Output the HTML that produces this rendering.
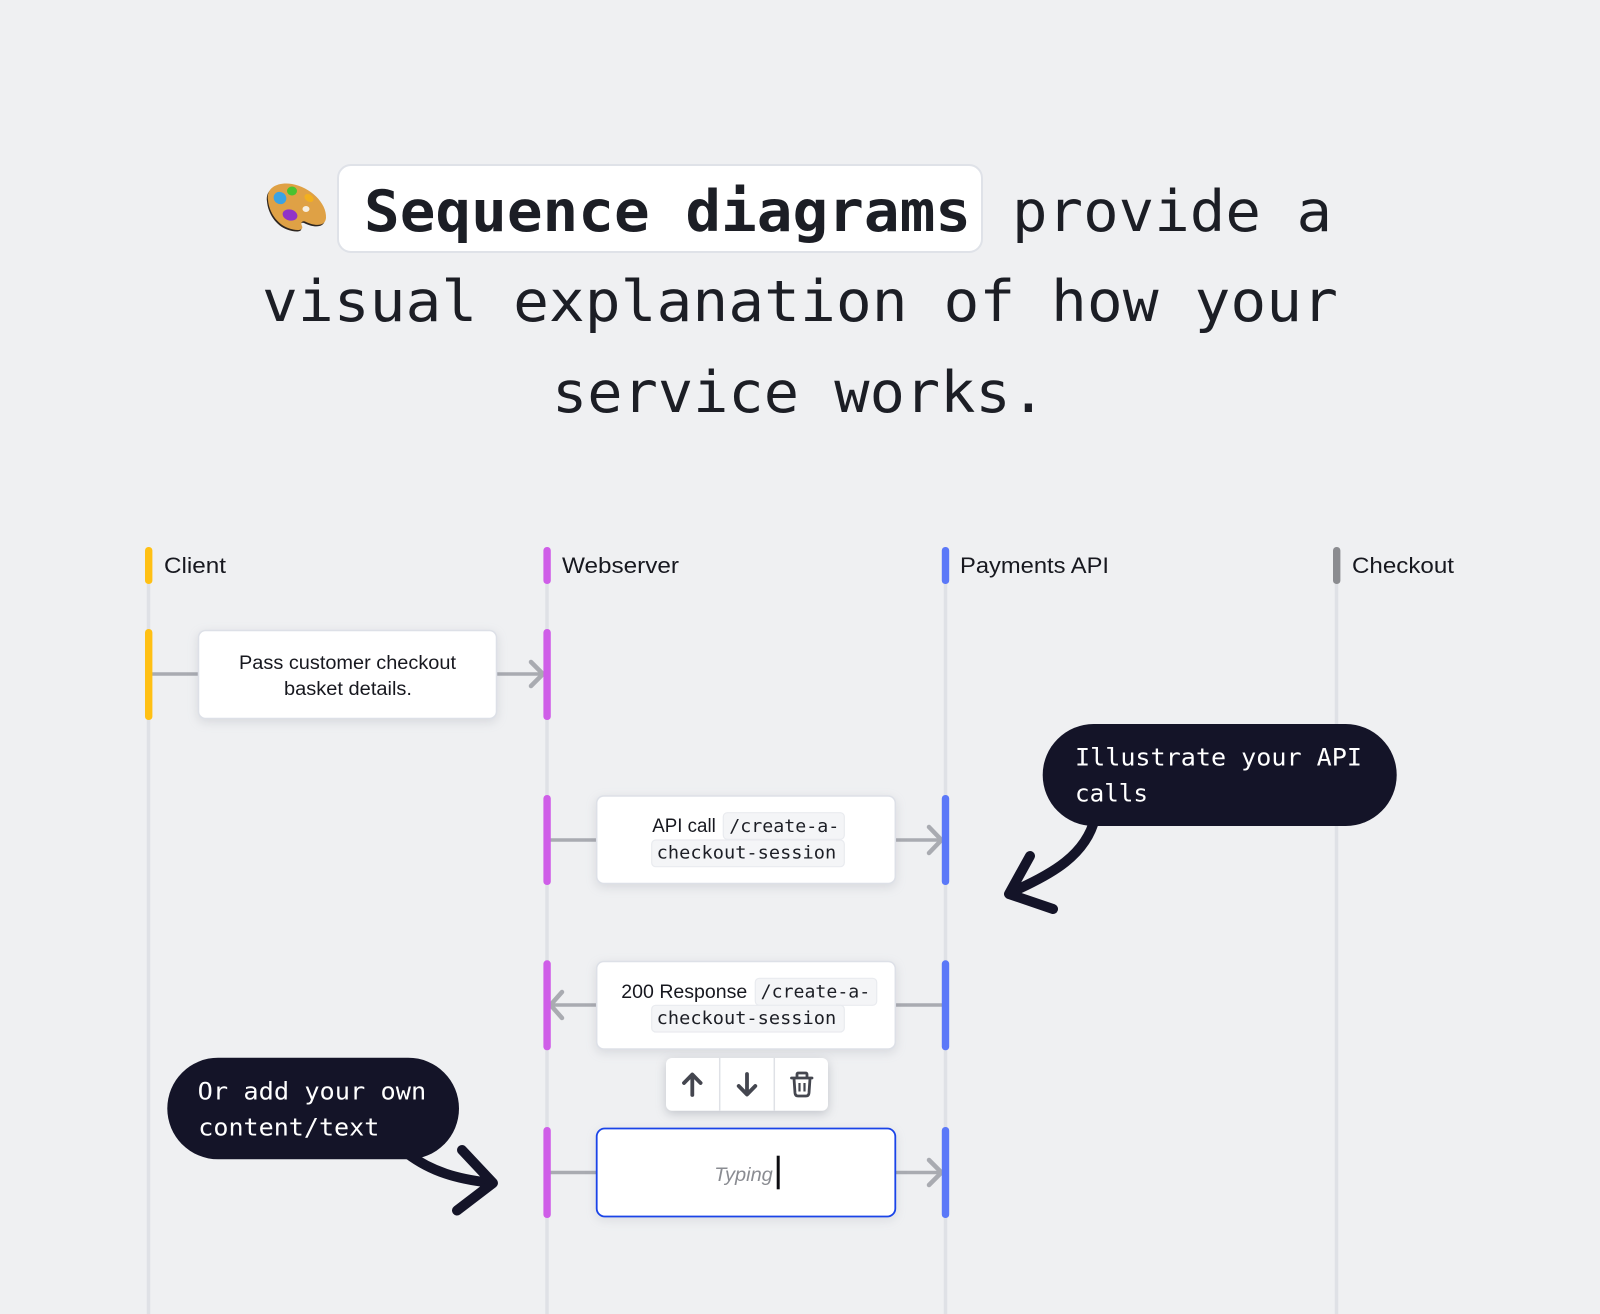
<!DOCTYPE html>
<html lang="en"><head><meta charset="utf-8"><title>Sequence diagrams</title>
<style>
html,body{margin:0;padding:0;background:#eff0f2}
svg{display:block}
.s{font-family:"Liberation Sans",sans-serif;fill:#17181f}
.m{font-family:"DejaVu Sans Mono","Liberation Mono",monospace}
.h{font-size:57px;fill:#1c1e25}
.c{font-size:18px;fill:#1c1e25}
.b{font-size:24px;fill:#fff}
.t{font-size:22.5px}
.d{font-size:19px}
.card{fill:#fff;stroke:#dde0e7;stroke-width:1.5;filter:drop-shadow(0 3px 5px rgba(120,125,140,.2))}
.chip{fill:#f4f5f7;stroke:#e9ebef;stroke-width:1.2}
.ar{stroke:#a9abb1;stroke-width:3.5;fill:none;stroke-linecap:round;stroke-linejoin:round}
.ch{stroke:#a9abb1;stroke-width:4.5;fill:none;stroke-linecap:round;stroke-linejoin:round}
.ll{stroke:#dfe1e6;stroke-width:3.5}
.tail{stroke:#141428;fill:none;stroke-linecap:round;stroke-linejoin:round}
.ic{stroke:#44464f;fill:none;stroke-width:3.8;stroke-linecap:round;stroke-linejoin:round}
</style></head>
<body>
<svg width="1600" height="1314" viewBox="0 0 1600 1314" xmlns="http://www.w3.org/2000/svg">
<rect width="1600" height="1314" fill="#eff0f2"/>

<!-- Heading -->
<path d="M268 200C266 186 280 182 292 184C310 187 327 203 326 218C325 228 312 225 306 222C303 220 300 222 302 226C304 231 296 231 288 228C277 224 269 212 268 200Z" fill="#2e2620" transform="translate(-1 1.5)"/>
<path d="M268 200C266 186 280 182 292 184C310 187 327 203 326 218C325 228 312 225 306 222C303 220 300 222 302 226C304 231 296 231 288 228C277 224 269 212 268 200Z" fill="#dfa145"/>
<ellipse cx="280" cy="198" rx="6.5" ry="6" fill="#3ba3e3" transform="rotate(35 280 198)"/>
<ellipse cx="292" cy="191" rx="5" ry="4.5" fill="#49c22f"/>
<ellipse cx="309" cy="198" rx="5" ry="3.5" fill="#f2b01e" transform="rotate(35 309 198)"/>
<ellipse cx="290" cy="215" rx="7.5" ry="5.5" fill="#9133c8" transform="rotate(15 290 215)"/>
<ellipse cx="306" cy="209" rx="3.5" ry="3" fill="#f6efe2"/>
<rect x="338" y="165" width="644" height="87" rx="13" fill="#fff" stroke="#dfe2e8" stroke-width="2"/>
<text class="m h" x="364" y="231" font-weight="700" textLength="607" lengthAdjust="spacingAndGlyphs">Sequence diagrams</text>
<text class="m h" x="1012" y="231" textLength="320" lengthAdjust="spacingAndGlyphs">provide a</text>
<text class="m h" x="262" y="321" textLength="1076" lengthAdjust="spacingAndGlyphs">visual explanation of how your</text>
<text class="m h" x="552" y="412" textLength="494" lengthAdjust="spacingAndGlyphs">service works.</text>

<!-- Lifelines -->
<line class="ll" x1="148.5" y1="584" x2="148.5" y2="1314"/>
<line class="ll" x1="547" y1="584" x2="547" y2="1314"/>
<line class="ll" x1="945.5" y1="584" x2="945.5" y2="1314"/>
<line class="ll" x1="1336.5" y1="584" x2="1336.5" y2="1314"/>

<!-- Column headers -->
<rect x="145" y="547" width="7.4" height="37" rx="3.5" fill="#ffc014"/>
<rect x="543.4" y="547" width="7.4" height="37" rx="3.5" fill="#cf5ee8"/>
<rect x="941.8" y="547" width="7.4" height="37" rx="3.5" fill="#5b78f8"/>
<rect x="1333" y="547" width="7.4" height="37" rx="3.5" fill="#8b8c90"/>
<text class="s t" x="164" y="573" textLength="62" lengthAdjust="spacingAndGlyphs">Client</text>
<text class="s t" x="562" y="573" textLength="117" lengthAdjust="spacingAndGlyphs">Webserver</text>
<text class="s t" x="960" y="573" textLength="149" lengthAdjust="spacingAndGlyphs">Payments API</text>
<text class="s t" x="1352" y="573" textLength="102" lengthAdjust="spacingAndGlyphs">Checkout</text>

<!-- Row 1 -->
<path class="ar" d="M151 674H199M497 674H541"/>
<path class="ch" d="M531 662L543 674L531 686"/>
<rect x="145" y="629" width="7.4" height="91" rx="3.5" fill="#ffc014"/>
<rect x="543.4" y="629" width="7.4" height="91" rx="3.5" fill="#cf5ee8"/>
<rect class="card" x="198.5" y="630.5" width="298" height="88" rx="7"/>
<text class="s d" x="239" y="669" textLength="217" lengthAdjust="spacingAndGlyphs">Pass customer checkout</text>
<text class="s d" x="284" y="695" textLength="128" lengthAdjust="spacingAndGlyphs">basket details.</text>

<!-- Row 2 -->
<path class="ar" d="M550 840H597M895 840H940"/>
<path class="ch" d="M929 827L941.5 840L929 853"/>
<rect x="543.4" y="795" width="7.4" height="90" rx="3.5" fill="#cf5ee8"/>
<rect x="941.8" y="795" width="7.4" height="90" rx="3.5" fill="#5b78f8"/>
<rect class="card" x="596.7" y="796" width="298.6" height="87.5" rx="7"/>
<text class="s d" x="652.3" y="832" textLength="63.5" lengthAdjust="spacingAndGlyphs">API call</text>
<rect class="chip" x="723.3" y="812.7" width="121" height="26.6" rx="4"/>
<rect class="chip" x="651.7" y="840" width="192.6" height="26.7" rx="4"/>
<text class="m c" x="729.3" y="832" textLength="110" lengthAdjust="spacingAndGlyphs">/create-a-</text>
<text class="m c" x="656.7" y="858.5" textLength="179.5" lengthAdjust="spacingAndGlyphs">checkout-session</text>

<!-- Row 3 -->
<path class="ar" d="M552 1005H597M895 1005H942"/>
<path class="ch" d="M562 992L550.5 1005L562 1018"/>
<rect x="543.4" y="960.3" width="7.4" height="90" rx="3.5" fill="#cf5ee8"/>
<rect x="941.8" y="960.3" width="7.4" height="90" rx="3.5" fill="#5b78f8"/>
<rect class="card" x="596.7" y="961.5" width="298.6" height="87.5" rx="7"/>
<text class="s d" x="621.3" y="998" textLength="126" lengthAdjust="spacingAndGlyphs">200 Response</text>
<rect class="chip" x="755.3" y="978.3" width="121.4" height="27" rx="4"/>
<rect class="chip" x="651.7" y="1005.3" width="192.6" height="26.7" rx="4"/>
<text class="m c" x="760.7" y="997.5" textLength="109.5" lengthAdjust="spacingAndGlyphs">/create-a-</text>
<text class="m c" x="656.7" y="1024" textLength="179.5" lengthAdjust="spacingAndGlyphs">checkout-session</text>

<!-- Toolbar -->
<rect x="666" y="1058" width="162" height="52.7" rx="6" fill="#fff" style="filter:drop-shadow(0 3px 5px rgba(100,105,120,.32))"/>
<line x1="719.7" y1="1058" x2="719.7" y2="1110.7" stroke="#dfe1e6" stroke-width="1.5"/>
<line x1="774.3" y1="1058" x2="774.3" y2="1110.7" stroke="#dfe1e6" stroke-width="1.5"/>
<path class="ic" d="M692.3 1095V1075M684 1083L692.3 1074.5L700.6 1083"/>
<path class="ic" d="M747 1074V1094M738.7 1086L747 1094.5L755.3 1086"/>
<path class="ic" style="stroke-width:2.8" d="M791.5 1078H812M797 1077.5V1074.5Q797 1073 798.5 1073H805.5Q807 1073 807 1074.5V1077.5M794 1078.5L795 1093Q795.3 1096 798 1096H806Q808.7 1096 809 1093L810 1078.5"/>
<path class="ic" style="stroke-width:2.2;stroke-linecap:butt" d="M799.5 1083V1091.5M804.5 1083V1091.5"/>

<!-- Row 4 -->
<path class="ar" d="M550 1172.5H597M895 1172.5H940"/>
<path class="ch" d="M929 1160L941.5 1172.5L929 1185"/>
<rect x="543.4" y="1127" width="7.4" height="91" rx="3.5" fill="#cf5ee8"/>
<rect x="941.8" y="1127" width="7.4" height="91" rx="3.5" fill="#5b78f8"/>
<rect x="596.7" y="1128.5" width="298.6" height="88" rx="8" fill="#fff" stroke="#1a44e8" stroke-width="1.8" style="filter:drop-shadow(0 3px 5px rgba(120,125,140,.16))"/>
<text class="s d" x="714.3" y="1181" font-style="italic" style="fill:#8a8c92" textLength="58.5" lengthAdjust="spacingAndGlyphs">Typing</text>
<rect x="776.7" y="1155.7" width="3" height="33.6" fill="#0c0c10"/>

<!-- Bubble 1 -->
<path class="tail" stroke-width="10" d="M1095 818C1086 855 1052 874 1014 891"/>
<path class="tail" stroke-width="10" d="M1030 856L1009 894L1053 909"/>
<rect x="1042.7" y="724" width="354" height="102" rx="51" fill="#141428"/>
<text class="m b" x="1075" y="765.7" textLength="287" lengthAdjust="spacingAndGlyphs">Illustrate your API</text>
<text class="m b" x="1075" y="801.7" textLength="73" lengthAdjust="spacingAndGlyphs">calls</text>

<!-- Bubble 2 -->
<path class="tail" stroke-width="10" d="M408 1154C432 1172 458 1179 488 1182.5"/>
<path class="tail" stroke-width="10" d="M462 1150L493 1183L457 1210.5"/>
<rect x="167.3" y="1057.7" width="291.7" height="101.6" rx="50.8" fill="#141428"/>
<text class="m b" x="197.7" y="1099.3" textLength="228.5" lengthAdjust="spacingAndGlyphs">Or add your own</text>
<text class="m b" x="198.3" y="1135.7" textLength="181" lengthAdjust="spacingAndGlyphs">content/text</text>
</svg>
</body></html>
